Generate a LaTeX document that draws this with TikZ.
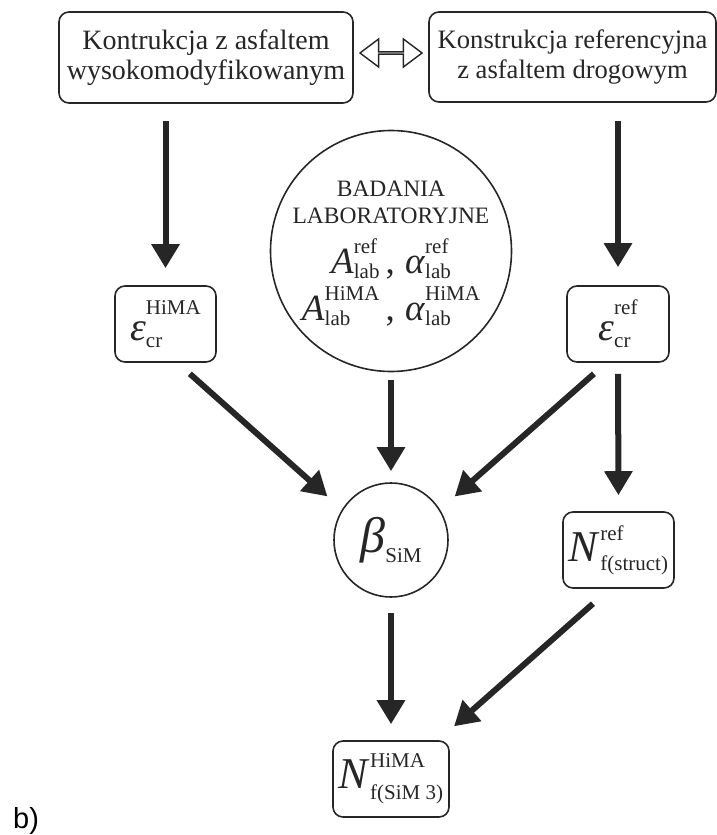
\documentclass[tikz,border=0pt]{standalone}
\usepackage{fontspec}
\setmainfont{Liberation Serif}
\newfontfamily\labelfont{Liberation Sans}
\usetikzlibrary{arrows.meta, positioning, shapes.arrows}
\definecolor{ink}{HTML}{262626}

% symbol with stacked upright super- and subscript
\newcommand{\msym}[5]{%
  {\itshape #1\/}{\fontsize{21pt}{21pt}\selectfont
  \setbox0\hbox{#2}\setbox2\hbox{#3}%
  \ifdim\wd0>\wd2 \dimen0=\wd0 \else \dimen0=\wd2 \fi
  \rlap{\raisebox{#4}{\box0}}\rlap{\raisebox{-#5}{\box2}}\kern\dimen0}}

\begin{document}
\begin{tikzpicture}[x=1pt, y=-1pt,
    box/.style={draw=ink, line width=1.6pt, rounded corners=10pt, inner sep=0pt, align=center, text=ink},
    ring/.style={draw=ink, line width=1.6pt, circle, inner sep=0pt, align=center, text=ink},
    arr/.style={draw=ink, line width=6pt, -{Triangle[length=24pt, width=27pt]}}]
    \useasboundingbox (0,0) rectangle (717,835);

    % Top: the two pavement structures
    \node [box, minimum width=294pt, minimum height=91pt, font=\fontsize{28pt}{30pt}\selectfont]
        (konH) at (206,57.5) {Kontrukcja z asfaltem\\wysokomodyfikowanym};
    \node [box, minimum width=287pt, minimum height=90pt, font=\fontsize{26.6pt}{30pt}\selectfont]
        (konR) at (572.5,57) {Konstrukcja referencyjna\\z asfaltem drogowym};
    \node [draw=ink, line width=1.4pt, double arrow, double arrow head extend=8pt, double arrow tip angle=74,
        minimum height=62pt, minimum width=28pt, inner sep=0pt] (eq) at (391,53) {};

    % Laboratory tests
    \node [ring, minimum size=228pt, font=\fontsize{23.5pt}{27pt}\selectfont] (lab) at (391,251)
        {BADANIA\\LABORATORYJNE\\[23pt]
         {\fontsize{37pt}{27pt}\selectfont\smash{\msym{A}{ref}{lab}{20pt}{5pt}\,,\;\msym{α}{ref}{lab}{20pt}{5pt}}}\\[20pt]
         {\fontsize{37pt}{27pt}\selectfont\smash{\msym{A}{HiMA}{lab}{20pt}{5pt}\,,\;\msym{α}{HiMA}{lab}{20pt}{5pt}}}};

    % Critical strains
    \node [box, minimum width=101pt, minimum height=76pt, font=\fontsize{40pt}{44pt}\selectfont]
        (epsH) at (165.5,324) {\msym{ε}{HiMA}{cr}{26pt}{7pt}};
    \node [box, minimum width=102pt, minimum height=76pt, font=\fontsize{40pt}{44pt}\selectfont]
        (epsR) at (618,324) {\msym{ε}{ref}{cr}{26pt}{7pt}};

    % Shift factor and fatigue lives
    \node [ring, minimum size=114pt, font=\fontsize{50pt}{54pt}\selectfont] (beta) at (391,540)
        {\msym{β}{}{SiM}{0pt}{10pt}};
    \node [box, minimum width=111pt, minimum height=76pt, font=\fontsize{44pt}{48pt}\selectfont]
        (Nref) at (618.5,550) {\msym{N}{ref}{f(struct)}{21pt}{9pt}};
    \node [box, minimum width=116pt, minimum height=76pt, font=\fontsize{44pt}{48pt}\selectfont]
        (NH) at (391,779) {\msym{N}{HiMA}{f(SiM 3)}{21pt}{11pt}};

    \node [anchor=base west, inner sep=0pt, text=black, font=\labelfont\fontsize{29pt}{30pt}\selectfont]
        (tag) at (13,828) {b)};

    % Arrows
    \draw [arr, shorten <=17pt, shorten >=17pt] (konH.south -| epsH.north) -- (epsH.north);
    \draw [arr, shorten <=18pt, shorten >=18pt] (konR.south -| epsR.north) -- (epsR.north);
    \draw [arr, shorten <=8pt, shorten >=11pt] (lab.south) -- (beta.north);
    \draw [arr, shorten <=16.5pt, shorten >=19.5pt] ([xshift=12pt]epsH.south) -- (beta.148);
    \draw [arr, shorten <=16.6pt, shorten >=19.5pt] ([xshift=-11.6pt]epsR.south) -- (beta.32);
    \draw [arr, shorten <=11pt, shorten >=16pt] (epsR.south) -- (Nref.north);
    \draw [arr, shorten <=15pt, shorten >=16pt] (beta.south) -- (NH.north);
    \draw [arr, shorten <=22.5pt, shorten >=21pt] ([xshift=-8.7pt]Nref.south) -- ([xshift=47.3pt]NH.north);
\end{tikzpicture}
\end{document}
